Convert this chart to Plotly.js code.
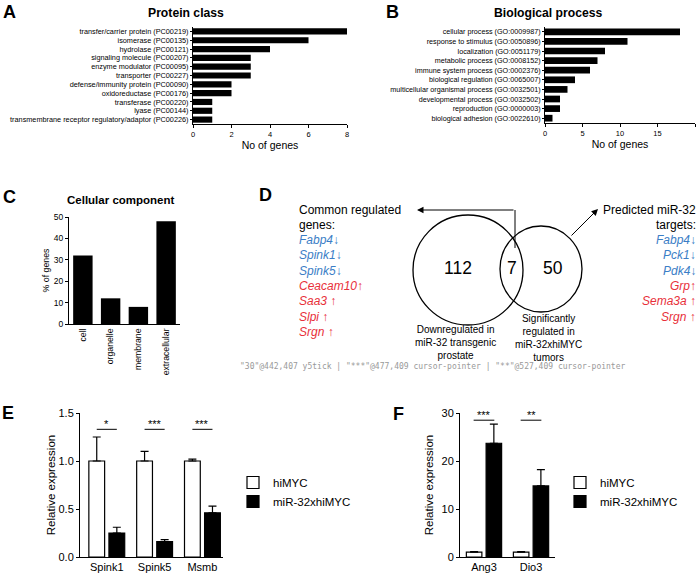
<!DOCTYPE html>
<html>
<head>
<meta charset="utf-8">
<script src="https://cdn.plot.ly/plotly-3.0.1.min.js"></script>
<style>html,body{margin:0;padding:0;background:#fff;}#chart{width:699px;height:574px;position:relative;}
#dbg{position:absolute;left:240px;top:362px;width:455px;font:8px monospace;line-height:9px;white-space:pre;color:#999;z-index:10;overflow:hidden;max-height:40px;}</style>
</head>
<body>
<div id="chart"></div>
<div id="dbg"></div>
<script>
// ---------- DATA ----------
const proteinClasses = [
  "transfer/carrier protein (PC00219)",
  "isomerase (PC00135)",
  "hydrolase (PC00121)",
  "signaling molecule (PC00207)",
  "enzyme modulator (PC00095)",
  "transporter (PC00227)",
  "defense/immunity protein (PC00090)",
  "oxidoreductase (PC00176)",
  "transferase (PC00220)",
  "lyase (PC00144)",
  "transmembrane receptor regulatory/adaptor (PC00226)"
];
const proteinCounts = [8, 6, 4, 3, 3, 3, 2, 2, 1, 1, 1];

const bioProcesses = [
  "cellular process (GO:0009987)",
  "response to stimulus (GO:0050896)",
  "localization (GO:0051179)",
  "metabolic process (GO:0008152)",
  "immune system process (GO:0002376)",
  "biological regulation (GO:0065007)",
  "multicellular organismal process (GO:0032501)",
  "developmental process (GO:0032502)",
  "reproduction (GO:0000003)",
  "biological adhesion (GO:0022610)"
];
const bioCounts = [18, 11, 8, 7, 6, 4, 3, 2, 2, 1];

const cellComponents = ["cell", "organelle", "membrane", "extracellular"];
const cellPercent = [32, 12, 8, 48];

const vennCounts = ["112", "7", "50"];
const commonGenes = ["Fabp4↓", "Spink1↓", "Spink5↓", "Ceacam10↑", "Saa3 ↑", "Slpi ↑", "Srgn ↑"];
const commonDir = ["down", "down", "down", "up", "up", "up", "up"];
const targetGenes = ["Fabp4↓", "Pck1↓", "Pdk4↓", "Grp↑", "Sema3a ↑", "Srgn ↑"];
const targetDir = ["down", "down", "down", "up", "up", "up"];

const genesE = ["Spink1", "Spink5", "Msmb"];
const hiMycE = [1.0, 1.0, 1.0];
const hiMycErrE = [0.25, 0.10, 0.02];
const mirE = [0.25, 0.16, 0.46];
const mirErrE = [0.06, 0.02, 0.07];
const sigE = ["*", "***", "***"];
const sigLevelE = 1.33;

const genesF = ["Ang3", "Dio3"];
const hiMycF = [1.0, 1.0];
const hiMycErrF = [0.12, 0.1];
const mirF = [23.7, 14.8];
const mirErrF = [4.0, 3.4];
const sigF = ["***", "**"];
const sigLevelF = 28.5;

// ---------- HELPERS ----------
const W = 699, H = 574;
const FONT = "Liberation Sans, Arial, Helvetica, sans-serif";
const px = x => x / W;
const py = y => 1 - y / H;
const BLUE = "#3b7ec6", RED = "#e8303a";

const annotations = [];
const shapes = [];
function txt(text, x, y, size, opts) {
  annotations.push(Object.assign({
    text: text, x: px(x), y: py(y), xref: "paper", yref: "paper",
    showarrow: false, xanchor: "center", yanchor: "middle",
    font: {family: FONT, size: size, color: "#000"}
  }, opts || {}));
}

const axisBase = {
  showline: true, linecolor: "#000", linewidth: 1, ticks: "outside", tickcolor: "#000",
  ticklen: 3, tickwidth: 1, showgrid: false, zeroline: false, fixedrange: true, automargin: false,
  tickfont: {family: FONT, color: "#000"}
};
function ax(o) { return Object.assign({}, axisBase, o, {tickfont: Object.assign({}, axisBase.tickfont, o.tickfont || {})}); }

const traces = [];

// ---------- A ----------
traces.push({type: "bar", orientation: "h", x: proteinCounts, y: proteinClasses, xaxis: "x", yaxis: "y",
  width: 0.7, marker: {color: "#000", line: {color: "#000", width: 0}}, showlegend: false, hoverinfo: "x+y"});
// ---------- B ----------
traces.push({type: "bar", orientation: "h", x: bioCounts, y: bioProcesses, xaxis: "x2", yaxis: "y2",
  width: 0.7, marker: {color: "#000", line: {color: "#000", width: 0}}, showlegend: false, hoverinfo: "x+y"});
// ---------- C ----------
traces.push({type: "bar", x: cellComponents, y: cellPercent, xaxis: "x3", yaxis: "y3",
  width: 0.7, marker: {color: "#000", line: {color: "#000", width: 0}}, showlegend: false});
// ---------- E ----------
const barW = 0.33;
traces.push({type: "bar", name: "hiMYC", x: genesE, y: hiMycE, xaxis: "x4", yaxis: "y4",
  width: barW, offset: -0.375, marker: {color: "#fff", line: {color: "#000", width: 1.2}},
  error_y: {type: "data", symmetric: false, array: hiMycErrE, arrayminus: hiMycE.map(() => 0), color: "#000", thickness: 1.2, width: 4},
  legend: "legend"});
traces.push({type: "bar", name: "miR-32xhiMYC", x: genesE, y: mirE, xaxis: "x4", yaxis: "y4",
  width: barW, offset: 0.045, marker: {color: "#000", line: {color: "#000", width: 1.2}},
  error_y: {type: "data", symmetric: false, array: mirErrE, arrayminus: mirE.map(() => 0), color: "#000", thickness: 1.2, width: 4},
  legend: "legend"});
// ---------- F ----------
traces.push({type: "bar", name: "hiMYC", x: genesF, y: hiMycF, xaxis: "x5", yaxis: "y5",
  width: barW, offset: -0.375, marker: {color: "#fff", line: {color: "#000", width: 1.2}},
  error_y: {type: "data", symmetric: false, array: hiMycErrF, arrayminus: hiMycF.map(() => 0), color: "#000", thickness: 1.2, width: 4},
  legend: "legend2"});
traces.push({type: "bar", name: "miR-32xhiMYC", x: genesF, y: mirF, xaxis: "x5", yaxis: "y5",
  width: barW, offset: 0.045, marker: {color: "#000", line: {color: "#000", width: 1.2}},
  error_y: {type: "data", symmetric: false, array: mirErrF, arrayminus: mirF.map(() => 0), color: "#000", thickness: 1.2, width: 4},
  legend: "legend2"});

// significance markers
function sig(labels, level, xref, yref, half) {
  labels.forEach((s, i) => {
    shapes.push({type: "line", xref: xref, yref: yref, x0: i - half, x1: i + half, y0: level, y1: level,
      line: {color: "#000", width: 1}});
    annotations.push({text: s, x: i, y: level, xref: xref, yref: yref, showarrow: false,
      xanchor: "center", yanchor: "bottom", yshift: -3, font: {family: FONT, size: 11, color: "#000"}});
  });
}
sig(sigE, sigLevelE, "x4", "y4", 0.21);
sig(sigF, sigLevelF, "x5", "y5", 0.22);

// ---------- Panel labels & titles ----------
txt("<b>A</b>", 9, 12, 18);
txt("<b>B</b>", 392, 12, 18);
txt("<b>C</b>", 9, 197, 18);
txt("<b>D</b>", 265, 195, 18);
txt("<b>E</b>", 8, 413, 18);
txt("<b>F</b>", 398, 414, 18);
txt("<b>Protein class</b>", 186, 13, 12.2);
txt("<b>Biological process</b>", 548, 13, 12.2);
txt("<b>Cellular component</b>", 121, 200, 11.5);

// ---------- D: Venn ----------
shapes.push({type: "circle", xref: "paper", yref: "paper", x0: px(413), x1: px(523), y0: py(325), y1: py(215),
  line: {color: "#000", width: 1.3}});
shapes.push({type: "circle", xref: "paper", yref: "paper", x0: px(500), x1: px(582), y0: py(312), y1: py(226),
  line: {color: "#000", width: 1.3}});
txt(vennCounts[0], 458, 268, 17.5);
txt(vennCounts[1], 512, 268, 17.5);
txt(vennCounts[2], 553, 268, 17.5);
shapes.push({type: "line", xref: "paper", yref: "paper", x0: px(515), x1: px(515), y0: py(248), y1: py(210),
  line: {color: "#000", width: 1}});
// arrows: tail offsets given in pixels relative to the head
annotations.push({text: "", x: px(417), y: py(210), ax: 98, ay: 0, xref: "paper", yref: "paper",
  axref: "pixel", ayref: "pixel", showarrow: true, arrowhead: 2, arrowsize: 1.3, arrowwidth: 1, arrowcolor: "#000"});
annotations.push({text: "", x: px(598), y: py(209), ax: -28, ay: 28, xref: "paper", yref: "paper",
  axref: "pixel", ayref: "pixel", showarrow: true, arrowhead: 2, arrowsize: 1.3, arrowwidth: 1, arrowcolor: "#000"});

txt("Common regulated", 297, 210, 12, {xanchor: "left"});
txt("genes:", 297, 225, 12, {xanchor: "left"});
commonGenes.forEach((g, i) => {
  txt("<i>" + g + "</i>", 297, 240 + i * 15.3, 12, {xanchor: "left",
    font: {family: FONT, size: 12, color: commonDir[i] === "down" ? BLUE : RED}});
});
txt("Predicted miR-32", 698, 210, 12, {xanchor: "right"});
txt("targets:", 698, 225, 12, {xanchor: "right"});
targetGenes.forEach((g, i) => {
  txt("<i>" + g + "</i>", 698, 240 + i * 15.3, 12, {xanchor: "right",
    font: {family: FONT, size: 12, color: targetDir[i] === "down" ? BLUE : RED}});
});
txt("Downregulated in<br>miR-32 transgenic<br>prostate", 455, 322, 10, {yanchor: "top", align: "center"});
txt("Significantly<br>regulated in<br>miR-32xhiMYC<br>tumors", 548, 311, 10, {yanchor: "top", align: "center"});

// ---------- LAYOUT ----------
const layout = {
  width: W, height: H, margin: {l: 0, r: 0, t: 0, b: 0},
  paper_bgcolor: "#fff", plot_bgcolor: "rgba(0,0,0,0)",
  font: {family: FONT, color: "#000"},
  barmode: "overlay",
  // A
  xaxis: ax({domain: [px(193), px(347)], anchor: "y", range: [0, 8], dtick: 2, tickfont: {size: 7.5},
    title: {text: "No of genes", font: {size: 10.5}, standoff: 3}}),
  yaxis: ax({domain: [py(124), py(27)], anchor: "x", type: "category", autorange: false, range: [10.5, -0.5],
    tickmode: "linear", tick0: 0, dtick: 1, ticklen: 2, tickfont: {size: 7.3}}),
  // B
  xaxis2: ax({domain: [px(545), px(695)], anchor: "y2", range: [0, 20], dtick: 5, tickfont: {size: 7.5},
    title: {text: "No of genes", font: {size: 10.5}, standoff: 3}}),
  yaxis2: ax({domain: [py(123), py(27)], anchor: "x2", type: "category", autorange: false, range: [9.5, -0.5],
    tickmode: "linear", tick0: 0, dtick: 1, ticklen: 2, tickfont: {size: 7.2}}),
  // C
  xaxis3: ax({domain: [px(69), px(180)], anchor: "y3", type: "category", range: [-0.5, 3.5], tickangle: -90,
    tickmode: "linear", tick0: 0, dtick: 1, ticks: "", tickfont: {size: 8.7}}),
  yaxis3: ax({domain: [py(324), py(217)], anchor: "x3", range: [0, 50], dtick: 10, tickfont: {size: 8.5},
    title: {text: "% of genes", font: {size: 8.8}, standoff: 2}}),
  // E
  xaxis4: ax({domain: [px(80), px(223)], anchor: "y4", type: "category", range: [-0.56, 2.43], ticks: "",
    tickfont: {size: 11}}),
  yaxis4: ax({domain: [py(557), py(413)], anchor: "x4", range: [0, 1.5], dtick: 0.5, tickformat: ".1f", ticklen: 3,
    tickfont: {size: 11}, title: {text: "Relative expression", font: {size: 11.5}, standoff: 0}}),
  // F
  xaxis5: ax({domain: [px(460), px(555)], anchor: "y5", type: "category", range: [-0.51, 1.51], ticks: "",
    tickfont: {size: 11}}),
  yaxis5: ax({domain: [py(557), py(413)], anchor: "x5", range: [0, 30], dtick: 10, ticklen: 3,
    tickfont: {size: 11}, title: {text: "Relative expression", font: {size: 11.5}, standoff: 5}}),
  legend: {x: px(233), y: py(468), xanchor: "left", yanchor: "top", bgcolor: "rgba(0,0,0,0)",
    font: {family: FONT, size: 11.5, color: "#000"}, tracegroupgap: 0},
  legend2: {x: px(560), y: py(468), xanchor: "left", yanchor: "top", bgcolor: "rgba(0,0,0,0)",
    font: {family: FONT, size: 11.5, color: "#000"}, tracegroupgap: 0},
  annotations: annotations,
  shapes: shapes
};

Plotly.newPlot("chart", traces, layout, {displayModeBar: false, staticPlot: true}).then(gd => {
  const svgRect = gd.querySelector("svg.main-svg").getBoundingClientRect();
  const out = [];
  gd.querySelectorAll("text").forEach(t => {
    const r = t.getBoundingClientRect();
    const x = Math.round(r.left - svgRect.left), y = Math.round(r.top - svgRect.top);
    if (x > 420 && x < 600 && y > 395 && y < 435) {
      const p = t.parentNode;
      out.push(JSON.stringify(t.textContent) + "@" + x + "," + y + " " + ((p.getAttribute && p.getAttribute("class")) || p.tagName));
    }
  });
  document.getElementById("dbg").textContent = out.join(" | ").replace(/(.{90})/g, "$1\n");
});
</script>
</body>
</html>
